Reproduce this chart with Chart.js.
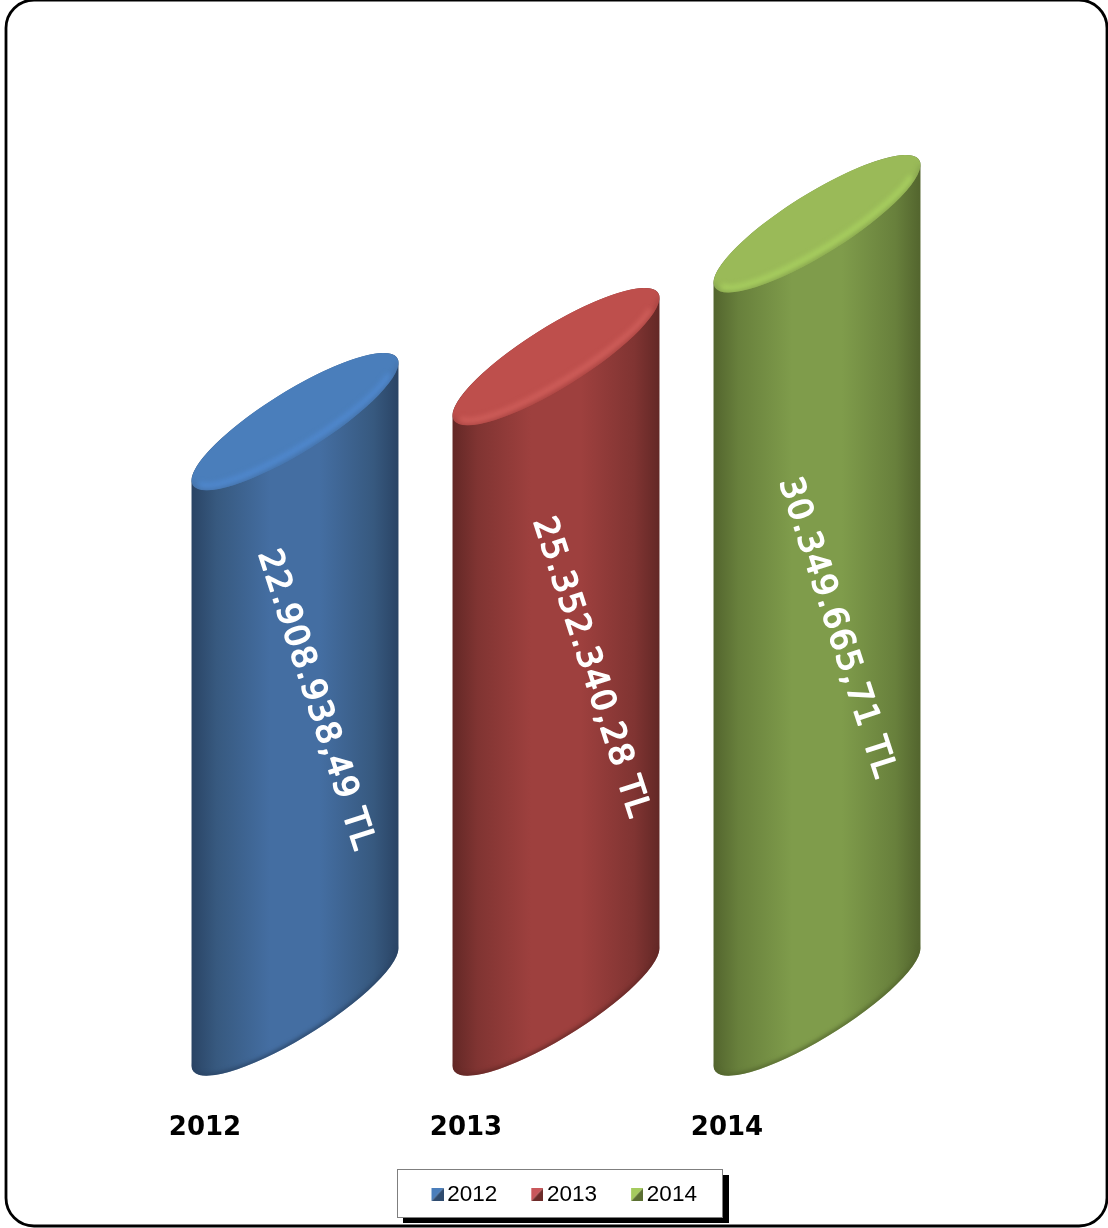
<!DOCTYPE html>
<html>
<head>
<meta charset="utf-8">
<script src="https://cdn.jsdelivr.net/npm/chart.js@4"></script>
<style>
html, body { margin: 0; padding: 0; background: #fff; }
canvas { display: block; }
</style>
</head>
<body>
<canvas id="tutarChart" width="1108" height="1228"></canvas>
<script>
// veriler
const years = ['2012', '2013', '2014'];
const amounts = [22908938.49, 25352340.28, 30349665.71];
const amountLabels = ['22.908.938,49 TL', '25.352.340,28 TL', '30.349.665,71 TL'];

// renkler: kenar, ara, orta, kapak, kapak parlakligi
const edgeColors = ['#2a4465', '#632826', '#53652e'];
const nearColors = ['#37597f', '#803432', '#68803c'];
const midColors = ['#446ea2', '#9e403e', '#7f9c4b'];
const capColors = ['#4a7ebb', '#be4f4c', '#9aba58'];
const rimColors = ['#5089d0', '#d05f5b', '#a9d160'];
const swatchLight = ['#4a7ebb', '#c9575b', '#a5cb5e'];
const swatchDark = ['#2f4b6e', '#6d2b29', '#5b6f32'];

// etiket kaydirmalari (cubuk ortasina gore)
const labelShiftX = [20, 34, 19];
const labelShiftY = [-14, -14, 13];

const TILT = -31.9 * Math.PI / 180;

function makeSwatch(i) {
    const c = document.createElement('canvas');
    c.width = 16;
    c.height = 13;
    const g = c.getContext('2d');
    g.fillStyle = swatchLight[i];
    g.beginPath(); g.moveTo(4, 0); g.lineTo(16, 0); g.lineTo(4, 13); g.closePath(); g.fill();
    g.fillStyle = swatchDark[i];
    g.beginPath(); g.moveTo(16, 0); g.lineTo(16, 13); g.lineTo(4, 13); g.closePath(); g.fill();
    return c;
}

// cerceve ve lejant kutusu
const framePlugin = {
    id: 'frame',
    afterLayout(chart) {
        const lg = chart.legend;
        const w = lg.width;
        lg.left = 397.5;
        lg.right = lg.left + w;
        lg.top = 1146;
    },
    beforeDraw(chart) {
        const ctx = chart.ctx;
        ctx.save();
        ctx.fillStyle = '#fff';
        ctx.fillRect(0, 0, chart.width, chart.height);
        ctx.strokeStyle = '#000';
        ctx.lineWidth = 2.8;
        ctx.beginPath();
        ctx.roundRect(6, 0, 1101, 1226, 28);
        ctx.stroke();
        ctx.fillStyle = '#000';
        ctx.fillRect(403, 1175, 326, 48);
        ctx.fillStyle = '#fff';
        ctx.fillRect(397, 1169, 326, 48);
        ctx.strokeStyle = '#7f7f7f';
        ctx.lineWidth = 1;
        ctx.strokeRect(397.5, 1169.5, 325, 48);
        ctx.restore();
    }
};

// silindirler: cubuk elemaninin x, y, base, width degerlerinden cizilir
const cylinderPlugin = {
    id: 'cylinder',
    afterDatasetsDraw(chart) {
        const ctx = chart.ctx;
        const meta = chart.getDatasetMeta(0);
        meta.data.forEach((bar, i) => {
            const a = bar.width * 120.4 / 206.5;
            const b = bar.width * 30.5 / 206.5;
            const tr = Math.atan2(-b * Math.sin(TILT), a * Math.cos(TILT));
            const left = bar.x - bar.width / 2;
            const right = bar.x + bar.width / 2;

            ctx.save();
            ctx.beginPath();
            ctx.ellipse(bar.x, bar.y, a, b, TILT, tr + Math.PI, tr + 2 * Math.PI);
            ctx.ellipse(bar.x, bar.base, a, b, TILT, tr, tr + Math.PI);
            ctx.closePath();
            const grad = ctx.createLinearGradient(left, 0, right, 0);
            grad.addColorStop(0, edgeColors[i]);
            grad.addColorStop(0.12, nearColors[i]);
            grad.addColorStop(0.38, midColors[i]);
            grad.addColorStop(0.62, midColors[i]);
            grad.addColorStop(0.88, nearColors[i]);
            grad.addColorStop(1, edgeColors[i]);
            ctx.fillStyle = grad;
            ctx.fill();

            // alt kenar golgesi
            ctx.save();
            ctx.clip();
            ctx.filter = 'blur(2px)';
            ctx.strokeStyle = edgeColors[i];
            ctx.lineWidth = 4;
            ctx.beginPath();
            ctx.ellipse(bar.x, bar.base, a, b, TILT, tr, tr + Math.PI);
            ctx.stroke();
            ctx.restore();
            ctx.restore();

            // ust kapak
            ctx.save();
            ctx.beginPath();
            ctx.ellipse(bar.x, bar.y, a, b, TILT, 0, 2 * Math.PI);
            ctx.fillStyle = capColors[i];
            ctx.fill();
            ctx.clip();
            ctx.filter = 'blur(2.5px)';
            ctx.strokeStyle = midColors[i];
            ctx.lineWidth = 3;
            ctx.beginPath();
            ctx.ellipse(bar.x, bar.y, a, b, TILT, tr, tr + Math.PI);
            ctx.stroke();
            ctx.strokeStyle = rimColors[i];
            ctx.lineWidth = 5;
            ctx.beginPath();
            ctx.ellipse(bar.x, bar.y, a - 6, b - 6, TILT, tr + 0.25, tr + Math.PI - 0.25);
            ctx.stroke();
            ctx.restore();

            // deger etiketi
            ctx.save();
            ctx.translate(bar.x + labelShiftX[i], (bar.y + bar.base) / 2 + labelShiftY[i]);
            ctx.rotate(72 * Math.PI / 180);
            ctx.font = '33px "DejaVu Sans"';
            ctx.letterSpacing = '1.5px';
            ctx.fillStyle = '#fff';
            ctx.strokeStyle = '#fff';
            ctx.lineWidth = 1.5;
            ctx.lineJoin = 'round';
            ctx.textAlign = 'center';
            ctx.textBaseline = 'middle';
            ctx.fillText(amountLabels[i], 0, 0);
            ctx.strokeText(amountLabels[i], 0, 0);
            ctx.restore();
        });
    }
};

const ctx = document.getElementById('tutarChart').getContext('2d');
const chart = new Chart(ctx, {
    type: 'bar',
    data: {
        labels: years,
        datasets: [{
            label: 'Tutar',
            data: amounts,
            base: 900000,
            backgroundColor: 'rgba(0,0,0,0)',
            barPercentage: 206.5 / 261,
            categoryPercentage: 1
        }]
    },
    options: {
        responsive: false,
        animation: false,
        layout: { padding: { left: 164.5, right: 160.5, top: 100 } },
        scales: {
            x: {
                grid: { display: false },
                border: { display: false },
                afterFit(scale) {
                    scale.height = 1228 - 1007 - scale.chart.legend.height;
                },
                ticks: {
                    color: '#000',
                    padding: 98,
                    labelOffset: -90,
                    maxRotation: 0,
                    font: { family: '"DejaVu Sans"', size: 26, weight: 'bold' }
                }
            },
            y: { display: false, min: 900000, max: 35000000 }
        },
        plugins: {
            tooltip: { enabled: false },
            legend: {
                position: 'bottom',
                align: 'start',
                labels: {
                    usePointStyle: true,
                    boxWidth: 1,
                    padding: 37.5,
                    color: '#000',
                    font: { family: '"Liberation Sans"', size: 22.5 },
                    generateLabels(chart) {
                        return chart.data.labels.map((text, i) => ({
                            text: text,
                            pointStyle: makeSwatch(i),
                            fillStyle: swatchLight[i],
                            lineWidth: 0,
                            hidden: false,
                            index: i
                        }));
                    }
                }
            }
        }
    },
    plugins: [framePlugin, cylinderPlugin]
});
</script>
</body>
</html>
